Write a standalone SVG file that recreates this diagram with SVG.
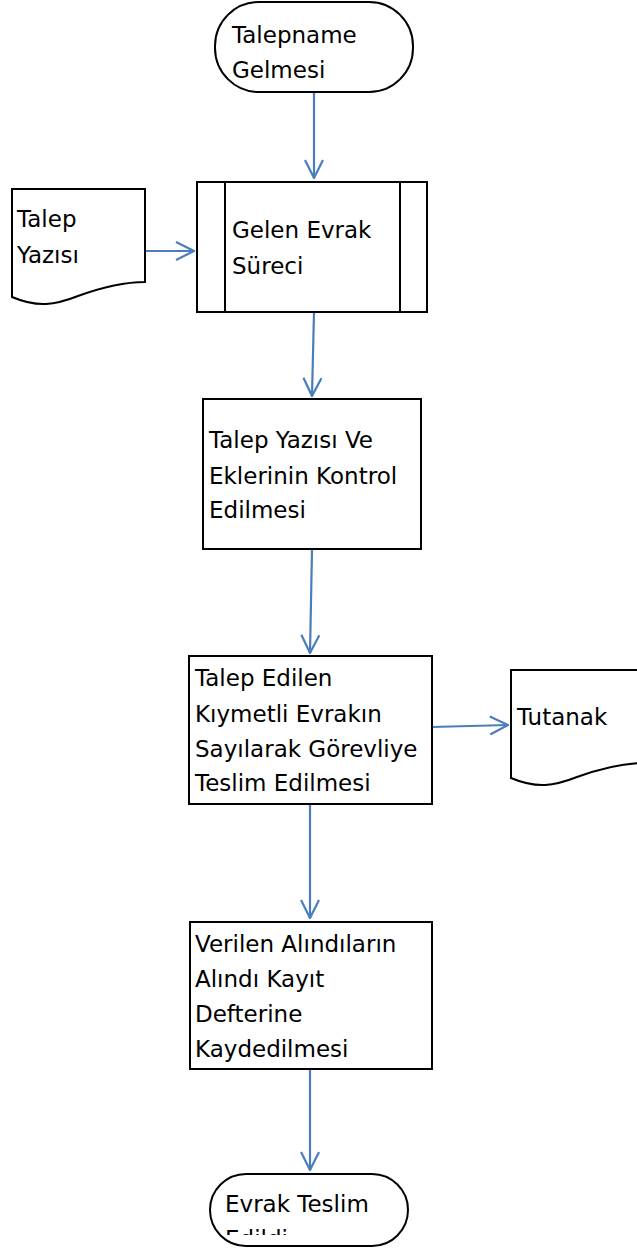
<svg xmlns="http://www.w3.org/2000/svg" width="637" height="1251" viewBox="0 0 637 1251">
<style>
.shape{fill:#fff;stroke:#000;stroke-width:2}
.lbl{font-family:"DejaVu Sans","Liberation Sans",sans-serif;font-size:23px;fill:#000}
.conn{fill:none;stroke:#4a7ebb;stroke-width:2.2}
</style>
<defs>
<marker id="arr" viewBox="0 0 20 20" refX="19" refY="10" markerWidth="20" markerHeight="20" markerUnits="userSpaceOnUse" orient="auto">
<path d="M1,1 L19,10 L1,19" fill="none" stroke="#4a7ebb" stroke-width="2.2"/>
</marker>
<clipPath id="endclip"><rect x="210" y="1174" width="199" height="61"/></clipPath>
</defs>
<rect width="637" height="1251" fill="#fff"/>
<g id="connectors">
<line class="conn" x1="314" y1="93" x2="314" y2="178" marker-end="url(#arr)"/>
<line class="conn" x1="145" y1="251" x2="194" y2="251" marker-end="url(#arr)"/>
<line class="conn" x1="314" y1="312" x2="312" y2="396" marker-end="url(#arr)"/>
<line class="conn" x1="312" y1="550" x2="310" y2="653" marker-end="url(#arr)"/>
<line class="conn" x1="432" y1="727" x2="508" y2="725" marker-end="url(#arr)"/>
<line class="conn" x1="310" y1="804" x2="310" y2="918" marker-end="url(#arr)"/>
<line class="conn" x1="310" y1="1070" x2="310" y2="1170" marker-end="url(#arr)"/>
</g>
<g id="n-start">
<rect class="shape" x="215" y="2" width="198" height="90" rx="44" ry="44"/>
<text class="lbl" x="232" y="43">Talepname</text>
<text class="lbl" x="232" y="78">Gelmesi</text>
</g>
<g id="n-talep-yazisi">
<path class="shape" d="M12,189 H145 V282 C122,282 100,288 78,296 C55,305 38,308 12,297 Z"/>
<text class="lbl" x="17" y="227">Talep</text>
<text class="lbl" x="17" y="263">Yazısı</text>
</g>
<g id="n-gelen-evrak">
<rect class="shape" x="197" y="182" width="230" height="130"/>
<line x1="225" y1="182" x2="225" y2="312" stroke="#000" stroke-width="2"/>
<line x1="400" y1="182" x2="400" y2="312" stroke="#000" stroke-width="2"/>
<text class="lbl" x="232" y="238">Gelen Evrak</text>
<text class="lbl" x="232" y="274">Süreci</text>
</g>
<g id="n-kontrol">
<rect class="shape" x="203" y="399" width="218" height="150"/>
<text class="lbl" x="209" y="448">Talep Yazısı Ve</text>
<text class="lbl" x="209" y="484">Eklerinin Kontrol</text>
<text class="lbl" x="209" y="518">Edilmesi</text>
</g>
<g id="n-teslim">
<rect class="shape" x="189" y="656" width="243" height="148"/>
<text class="lbl" x="195" y="686">Talep Edilen</text>
<text class="lbl" x="195" y="722">Kıymetli Evrakın</text>
<text class="lbl" x="195" y="757">Sayılarak Görevliye</text>
<text class="lbl" x="195" y="791">Teslim Edilmesi</text>
</g>
<g id="n-tutanak">
<path class="shape" d="M511,670 H644 V763 C621,763 599,769 577,777 C554,786 537,789 511,778 Z"/>
<text class="lbl" x="517" y="725">Tutanak</text>
</g>
<g id="n-alindi">
<rect class="shape" x="190" y="922" width="242" height="147"/>
<text class="lbl" x="195" y="952">Verilen Alındıların</text>
<text class="lbl" x="195" y="987">Alındı Kayıt</text>
<text class="lbl" x="195" y="1022">Defterine</text>
<text class="lbl" x="195" y="1057">Kaydedilmesi</text>
</g>
<g id="n-end">
<rect class="shape" x="210" y="1174" width="198" height="72" rx="36" ry="36"/>
<g clip-path="url(#endclip)">
<text class="lbl" x="225" y="1212">Evrak Teslim</text>
<text class="lbl" x="225" y="1247">Edildi</text>
</g>
</g>
</svg>
